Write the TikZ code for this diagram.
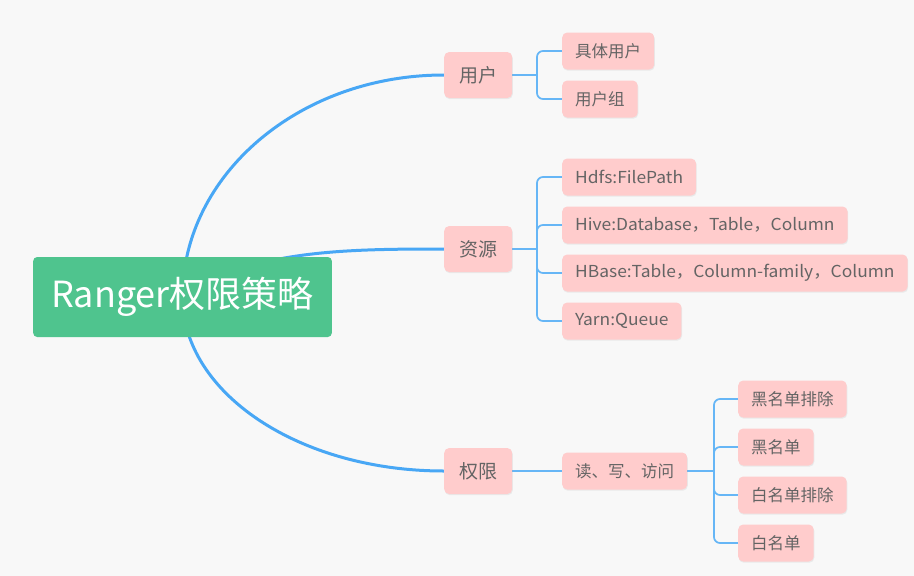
\documentclass[tikz,border=0pt]{standalone}
\usepackage{fontspec}
\setmainfont{Noto Sans CJK SC}
\newfontfamily\widefont[FakeStretch=1.055]{Noto Sans CJK SC}
\usetikzlibrary{positioning, calc, shadows}
\definecolor{bggray}{RGB}{248,248,248}
\definecolor{rootgreen}{RGB}{79,196,142}
\definecolor{topicpink}{RGB}{255,204,204}
\definecolor{linkblue}{RGB}{72,167,245}
\definecolor{branchblue}{RGB}{102,182,246}
\definecolor{labelgray}{RGB}{100,100,100}
\pgfdeclarelayer{canvas}
\pgfdeclarelayer{links}
\pgfsetlayers{canvas,links,main}

\tikzset{
  rootbox/.style={fill=rootgreen, text=white, rounded corners=4pt, minimum height=80pt,
    inner xsep=18pt, font=\fontsize{36}{40}\selectfont},
  topicbox/.style={fill=topicpink, text=labelgray, rounded corners=5pt, minimum height=46pt,
    inner xsep=15pt, font=\fontsize{19}{22}\selectfont,
    drop shadow={opacity=0.12, shadow xshift=0.6pt, shadow yshift=-1.2pt}},
  leafbox/.style={topicbox, minimum height=37pt, inner xsep=13pt, font=\fontsize{16.5}{20}\selectfont},
  wideleaf/.style={leafbox, font=\widefont\fontsize{16.5}{20}\selectfont},
  mainlink/.style={draw=linkblue, line width=3pt},
  sublink/.style={draw=branchblue, line width=1.7pt, rounded corners=6pt},
}

\begin{document}
\begin{tikzpicture}[x=1pt, y=-1pt]
  \begin{pgfonlayer}{canvas}
    \fill[bggray] (0,0) rectangle (914,576);
  \end{pgfonlayer}

  % central topic
  \node[rootbox, anchor=west] (root) at (33,297) {Ranger权限策略};

  % main branches
  \node[topicbox, anchor=west] (user) at (444,75) {用户};
  \node[topicbox, anchor=west] (res) at (444,249) {资源};
  \node[topicbox, anchor=west] (perm) at (444,471) {权限};

  % users
  \node[leafbox, anchor=west] (user1) at (562,51) {具体用户};
  \node[leafbox, anchor=west] (user2) at (562,99) {用户组};

  % resources
  \node[wideleaf, anchor=west] (res1) at (562,177) {Hdfs:FilePath};
  \node[wideleaf, anchor=west] (res2) at (562,225) {Hive:Database，Table，Column};
  \node[wideleaf, anchor=west] (res3) at (562,273) {HBase:Table，Column-family，Column};
  \node[wideleaf, anchor=west] (res4) at (562,321) {Yarn:Queue};

  % permissions
  \node[leafbox, anchor=west] (rwx) at (562,471) {读、写、访问};
  \node[leafbox, anchor=west] (perm1) at (738,399) {黑名单排除};
  \node[leafbox, anchor=west] (perm2) at (738,447) {黑名单};
  \node[leafbox, anchor=west] (perm3) at (738,495) {白名单排除};
  \node[leafbox, anchor=west] (perm4) at (738,543) {白名单};

  \coordinate (userjoint) at (537,75);
  \coordinate (resjoint) at (537,249);
  \coordinate (permjoint) at (714,471);

  \begin{pgfonlayer}{links}
    \draw[mainlink] (root.center) .. controls +(0,-122) and +(-145,0) .. (user.west);
    \draw[mainlink] (root.center) .. controls +(68,-47) and +(-100,0) .. (res.west);
    \draw[mainlink] (root.center) .. controls +(0,96) and +(-145,0) .. (perm.west);

    \draw[sublink, line width=2.4pt] (user.east) -- (userjoint);
    \foreach \leaf in {user1, user2}
      \draw[sublink] (userjoint) |- (\leaf.west);

    \draw[sublink, line width=2.4pt] (res.east) -- (resjoint);
    \foreach \leaf in {res1, res2, res3, res4}
      \draw[sublink] (resjoint) |- (\leaf.west);

    \draw[sublink] (perm.east) -- (rwx.west);
    \draw[sublink, line width=2.4pt] (rwx.east) -- (permjoint);
    \foreach \leaf in {perm1, perm2, perm3, perm4}
      \draw[sublink] (permjoint) |- (\leaf.west);
  \end{pgfonlayer}
\end{tikzpicture}
\end{document}
